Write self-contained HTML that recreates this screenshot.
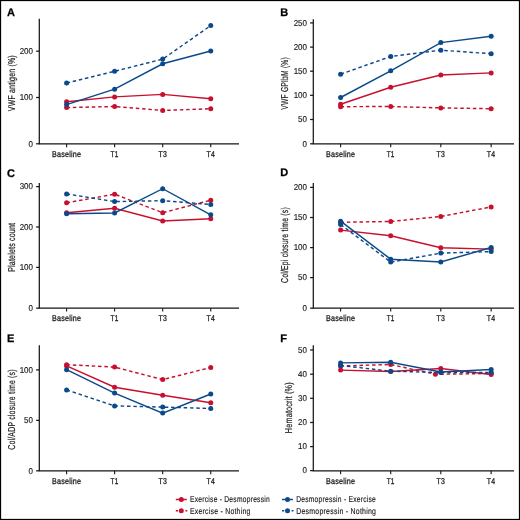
<!DOCTYPE html><html><head><meta charset="utf-8"><style>html,body{margin:0;padding:0;background:#fff;}svg{display:block;will-change:transform;}</style></head><body>
<svg width="520" height="520" viewBox="0 0 520 520" font-family='&quot;Liberation Sans&quot;, sans-serif' text-rendering="geometricPrecision">
<rect x="0" y="0" width="520" height="520" fill="#fff"/>
<text x="7.00" y="16.20" font-size="11" font-weight="bold" fill="#000" stroke="#000" stroke-width="0.25">A</text>
<path d="M39.30 18.80 V143.80 H239.00" fill="none" stroke="#161616" stroke-width="1.25"/>
<line x1="36.10" y1="143.80" x2="39.30" y2="143.80" stroke="#161616" stroke-width="1.25"/>
<text x="28.56" y="146.50" font-size="8.5" textLength="4.44" lengthAdjust="spacingAndGlyphs" fill="#1a1a1a" stroke="#1a1a1a" stroke-width="0.15">0</text>
<line x1="36.10" y1="97.50" x2="39.30" y2="97.50" stroke="#161616" stroke-width="1.25"/>
<text x="19.67" y="100.20" font-size="8.5" textLength="13.33" lengthAdjust="spacingAndGlyphs" fill="#1a1a1a" stroke="#1a1a1a" stroke-width="0.15">100</text>
<line x1="36.10" y1="51.20" x2="39.30" y2="51.20" stroke="#161616" stroke-width="1.25"/>
<text x="19.67" y="53.90" font-size="8.5" textLength="13.33" lengthAdjust="spacingAndGlyphs" fill="#1a1a1a" stroke="#1a1a1a" stroke-width="0.15">200</text>
<line x1="66.60" y1="143.80" x2="66.60" y2="147.20" stroke="#161616" stroke-width="1.1"/>
<text x="51.90" y="156.90" font-size="8.5" letter-spacing="0.3" textLength="29.40" lengthAdjust="spacingAndGlyphs" fill="#1a1a1a" stroke="#1a1a1a" stroke-width="0.28">Baseline</text>
<line x1="114.60" y1="143.80" x2="114.60" y2="147.20" stroke="#161616" stroke-width="1.1"/>
<text x="110.60" y="156.90" font-size="8.5" letter-spacing="0.3" textLength="8.00" lengthAdjust="spacingAndGlyphs" fill="#1a1a1a" stroke="#1a1a1a" stroke-width="0.28">T1</text>
<line x1="162.70" y1="143.80" x2="162.70" y2="147.20" stroke="#161616" stroke-width="1.1"/>
<text x="158.40" y="156.90" font-size="8.5" letter-spacing="0.3" textLength="8.60" lengthAdjust="spacingAndGlyphs" fill="#1a1a1a" stroke="#1a1a1a" stroke-width="0.28">T3</text>
<line x1="210.75" y1="143.80" x2="210.75" y2="147.20" stroke="#161616" stroke-width="1.1"/>
<text x="206.45" y="156.90" font-size="8.5" letter-spacing="0.3" textLength="8.60" lengthAdjust="spacingAndGlyphs" fill="#1a1a1a" stroke="#1a1a1a" stroke-width="0.28">T4</text>
<text transform="translate(15.20 83.15) rotate(-90)" x="-28.00" y="0" font-size="10" letter-spacing="0.3" textLength="56.00" lengthAdjust="spacingAndGlyphs" fill="#1a1a1a" stroke="#1a1a1a" stroke-width="0.2">VWF antigen (%)</text>
<path d="M66.60 101.80 L114.60 96.90 L162.70 94.40 L210.75 98.70" fill="none" stroke="#c8102e" stroke-width="1.45"/>
<circle cx="66.60" cy="101.80" r="2.5" fill="#c8102e"/>
<circle cx="114.60" cy="96.90" r="2.5" fill="#c8102e"/>
<circle cx="162.70" cy="94.40" r="2.5" fill="#c8102e"/>
<circle cx="210.75" cy="98.70" r="2.5" fill="#c8102e"/>
<path d="M66.60 107.60 L114.60 106.50 L162.70 110.50 L210.75 108.70" fill="none" stroke="#c8102e" stroke-width="1.45" stroke-dasharray="3.5 2.8"/>
<circle cx="66.60" cy="107.60" r="2.5" fill="#c8102e"/>
<circle cx="114.60" cy="106.50" r="2.5" fill="#c8102e"/>
<circle cx="162.70" cy="110.50" r="2.5" fill="#c8102e"/>
<circle cx="210.75" cy="108.70" r="2.5" fill="#c8102e"/>
<path d="M66.60 104.60 L114.60 89.20 L162.70 63.80 L210.75 51.00" fill="none" stroke="#0b4a8a" stroke-width="1.45"/>
<circle cx="66.60" cy="104.60" r="2.5" fill="#0b4a8a"/>
<circle cx="114.60" cy="89.20" r="2.5" fill="#0b4a8a"/>
<circle cx="162.70" cy="63.80" r="2.5" fill="#0b4a8a"/>
<circle cx="210.75" cy="51.00" r="2.5" fill="#0b4a8a"/>
<path d="M66.60 83.00 L114.60 71.30 L162.70 59.10 L210.75 25.60" fill="none" stroke="#0b4a8a" stroke-width="1.45" stroke-dasharray="3.5 2.8"/>
<circle cx="66.60" cy="83.00" r="2.5" fill="#0b4a8a"/>
<circle cx="114.60" cy="71.30" r="2.5" fill="#0b4a8a"/>
<circle cx="162.70" cy="59.10" r="2.5" fill="#0b4a8a"/>
<circle cx="210.75" cy="25.60" r="2.5" fill="#0b4a8a"/>
<text x="280.30" y="16.20" font-size="11" font-weight="bold" fill="#000" stroke="#000" stroke-width="0.25">B</text>
<path d="M313.30 19.20 V143.80 H514.00" fill="none" stroke="#161616" stroke-width="1.25"/>
<line x1="310.10" y1="143.80" x2="313.30" y2="143.80" stroke="#161616" stroke-width="1.25"/>
<text x="302.56" y="146.50" font-size="8.5" textLength="4.44" lengthAdjust="spacingAndGlyphs" fill="#1a1a1a" stroke="#1a1a1a" stroke-width="0.15">0</text>
<line x1="310.10" y1="119.50" x2="313.30" y2="119.50" stroke="#161616" stroke-width="1.25"/>
<text x="298.12" y="122.20" font-size="8.5" textLength="8.88" lengthAdjust="spacingAndGlyphs" fill="#1a1a1a" stroke="#1a1a1a" stroke-width="0.15">50</text>
<line x1="310.10" y1="95.30" x2="313.30" y2="95.30" stroke="#161616" stroke-width="1.25"/>
<text x="293.67" y="98.00" font-size="8.5" textLength="13.33" lengthAdjust="spacingAndGlyphs" fill="#1a1a1a" stroke="#1a1a1a" stroke-width="0.15">100</text>
<line x1="310.10" y1="71.20" x2="313.30" y2="71.20" stroke="#161616" stroke-width="1.25"/>
<text x="293.67" y="73.90" font-size="8.5" textLength="13.33" lengthAdjust="spacingAndGlyphs" fill="#1a1a1a" stroke="#1a1a1a" stroke-width="0.15">150</text>
<line x1="310.10" y1="47.10" x2="313.30" y2="47.10" stroke="#161616" stroke-width="1.25"/>
<text x="293.67" y="49.80" font-size="8.5" textLength="13.33" lengthAdjust="spacingAndGlyphs" fill="#1a1a1a" stroke="#1a1a1a" stroke-width="0.15">200</text>
<line x1="310.10" y1="22.90" x2="313.30" y2="22.90" stroke="#161616" stroke-width="1.25"/>
<text x="293.67" y="25.60" font-size="8.5" textLength="13.33" lengthAdjust="spacingAndGlyphs" fill="#1a1a1a" stroke="#1a1a1a" stroke-width="0.15">250</text>
<line x1="340.60" y1="143.80" x2="340.60" y2="147.20" stroke="#161616" stroke-width="1.1"/>
<text x="325.90" y="156.90" font-size="8.5" letter-spacing="0.3" textLength="29.40" lengthAdjust="spacingAndGlyphs" fill="#1a1a1a" stroke="#1a1a1a" stroke-width="0.28">Baseline</text>
<line x1="390.70" y1="143.80" x2="390.70" y2="147.20" stroke="#161616" stroke-width="1.1"/>
<text x="386.70" y="156.90" font-size="8.5" letter-spacing="0.3" textLength="8.00" lengthAdjust="spacingAndGlyphs" fill="#1a1a1a" stroke="#1a1a1a" stroke-width="0.28">T1</text>
<line x1="440.80" y1="143.80" x2="440.80" y2="147.20" stroke="#161616" stroke-width="1.1"/>
<text x="436.50" y="156.90" font-size="8.5" letter-spacing="0.3" textLength="8.60" lengthAdjust="spacingAndGlyphs" fill="#1a1a1a" stroke="#1a1a1a" stroke-width="0.28">T3</text>
<line x1="491.15" y1="143.80" x2="491.15" y2="147.20" stroke="#161616" stroke-width="1.1"/>
<text x="486.85" y="156.90" font-size="8.5" letter-spacing="0.3" textLength="8.60" lengthAdjust="spacingAndGlyphs" fill="#1a1a1a" stroke="#1a1a1a" stroke-width="0.28">T4</text>
<text transform="translate(288.20 83.35) rotate(-90)" x="-26.30" y="0" font-size="10" letter-spacing="0.3" textLength="52.60" lengthAdjust="spacingAndGlyphs" fill="#1a1a1a" stroke="#1a1a1a" stroke-width="0.2">VWF GPIbM (%)</text>
<path d="M340.60 104.20 L390.70 87.20 L440.80 75.00 L491.15 72.90" fill="none" stroke="#c8102e" stroke-width="1.45"/>
<circle cx="340.60" cy="104.20" r="2.5" fill="#c8102e"/>
<circle cx="390.70" cy="87.20" r="2.5" fill="#c8102e"/>
<circle cx="440.80" cy="75.00" r="2.5" fill="#c8102e"/>
<circle cx="491.15" cy="72.90" r="2.5" fill="#c8102e"/>
<path d="M340.60 106.70 L390.70 106.50 L440.80 107.90 L491.15 108.70" fill="none" stroke="#c8102e" stroke-width="1.45" stroke-dasharray="3.5 2.8"/>
<circle cx="340.60" cy="106.70" r="2.5" fill="#c8102e"/>
<circle cx="390.70" cy="106.50" r="2.5" fill="#c8102e"/>
<circle cx="440.80" cy="107.90" r="2.5" fill="#c8102e"/>
<circle cx="491.15" cy="108.70" r="2.5" fill="#c8102e"/>
<path d="M340.60 97.50 L390.70 70.80 L440.80 42.60 L491.15 36.30" fill="none" stroke="#0b4a8a" stroke-width="1.45"/>
<circle cx="340.60" cy="97.50" r="2.5" fill="#0b4a8a"/>
<circle cx="390.70" cy="70.80" r="2.5" fill="#0b4a8a"/>
<circle cx="440.80" cy="42.60" r="2.5" fill="#0b4a8a"/>
<circle cx="491.15" cy="36.30" r="2.5" fill="#0b4a8a"/>
<path d="M340.60 74.20 L390.70 56.50 L440.80 50.20 L491.15 53.70" fill="none" stroke="#0b4a8a" stroke-width="1.45" stroke-dasharray="3.5 2.8"/>
<circle cx="340.60" cy="74.20" r="2.5" fill="#0b4a8a"/>
<circle cx="390.70" cy="56.50" r="2.5" fill="#0b4a8a"/>
<circle cx="440.80" cy="50.20" r="2.5" fill="#0b4a8a"/>
<circle cx="491.15" cy="53.70" r="2.5" fill="#0b4a8a"/>
<text x="7.00" y="176.50" font-size="11" font-weight="bold" fill="#000" stroke="#000" stroke-width="0.25">C</text>
<path d="M39.30 183.00 V308.15 H239.00" fill="none" stroke="#161616" stroke-width="1.25"/>
<line x1="36.10" y1="308.15" x2="39.30" y2="308.15" stroke="#161616" stroke-width="1.25"/>
<text x="28.56" y="310.85" font-size="8.5" textLength="4.44" lengthAdjust="spacingAndGlyphs" fill="#1a1a1a" stroke="#1a1a1a" stroke-width="0.15">0</text>
<line x1="36.10" y1="267.40" x2="39.30" y2="267.40" stroke="#161616" stroke-width="1.25"/>
<text x="19.67" y="270.10" font-size="8.5" textLength="13.33" lengthAdjust="spacingAndGlyphs" fill="#1a1a1a" stroke="#1a1a1a" stroke-width="0.15">100</text>
<line x1="36.10" y1="227.00" x2="39.30" y2="227.00" stroke="#161616" stroke-width="1.25"/>
<text x="19.67" y="229.70" font-size="8.5" textLength="13.33" lengthAdjust="spacingAndGlyphs" fill="#1a1a1a" stroke="#1a1a1a" stroke-width="0.15">200</text>
<line x1="36.10" y1="186.60" x2="39.30" y2="186.60" stroke="#161616" stroke-width="1.25"/>
<text x="19.67" y="189.30" font-size="8.5" textLength="13.33" lengthAdjust="spacingAndGlyphs" fill="#1a1a1a" stroke="#1a1a1a" stroke-width="0.15">300</text>
<line x1="66.60" y1="308.15" x2="66.60" y2="311.55" stroke="#161616" stroke-width="1.1"/>
<text x="51.90" y="321.25" font-size="8.5" letter-spacing="0.3" textLength="29.40" lengthAdjust="spacingAndGlyphs" fill="#1a1a1a" stroke="#1a1a1a" stroke-width="0.28">Baseline</text>
<line x1="114.60" y1="308.15" x2="114.60" y2="311.55" stroke="#161616" stroke-width="1.1"/>
<text x="110.60" y="321.25" font-size="8.5" letter-spacing="0.3" textLength="8.00" lengthAdjust="spacingAndGlyphs" fill="#1a1a1a" stroke="#1a1a1a" stroke-width="0.28">T1</text>
<line x1="162.70" y1="308.15" x2="162.70" y2="311.55" stroke="#161616" stroke-width="1.1"/>
<text x="158.40" y="321.25" font-size="8.5" letter-spacing="0.3" textLength="8.60" lengthAdjust="spacingAndGlyphs" fill="#1a1a1a" stroke="#1a1a1a" stroke-width="0.28">T3</text>
<line x1="210.75" y1="308.15" x2="210.75" y2="311.55" stroke="#161616" stroke-width="1.1"/>
<text x="206.45" y="321.25" font-size="8.5" letter-spacing="0.3" textLength="8.60" lengthAdjust="spacingAndGlyphs" fill="#1a1a1a" stroke="#1a1a1a" stroke-width="0.28">T4</text>
<text transform="translate(15.20 247.30) rotate(-90)" x="-24.50" y="0" font-size="10" letter-spacing="0.3" textLength="49.00" lengthAdjust="spacingAndGlyphs" fill="#1a1a1a" stroke="#1a1a1a" stroke-width="0.2">Platelets count</text>
<path d="M66.60 212.70 L114.60 208.20 L162.70 220.90 L210.75 218.70" fill="none" stroke="#c8102e" stroke-width="1.45"/>
<circle cx="66.60" cy="212.70" r="2.5" fill="#c8102e"/>
<circle cx="114.60" cy="208.20" r="2.5" fill="#c8102e"/>
<circle cx="162.70" cy="220.90" r="2.5" fill="#c8102e"/>
<circle cx="210.75" cy="218.70" r="2.5" fill="#c8102e"/>
<path d="M66.60 202.80 L114.60 194.20 L162.70 212.70 L210.75 200.20" fill="none" stroke="#c8102e" stroke-width="1.45" stroke-dasharray="3.5 2.8"/>
<circle cx="66.60" cy="202.80" r="2.5" fill="#c8102e"/>
<circle cx="114.60" cy="194.20" r="2.5" fill="#c8102e"/>
<circle cx="162.70" cy="212.70" r="2.5" fill="#c8102e"/>
<circle cx="210.75" cy="200.20" r="2.5" fill="#c8102e"/>
<path d="M66.60 213.70 L114.60 213.00 L162.70 188.70 L210.75 214.80" fill="none" stroke="#0b4a8a" stroke-width="1.45"/>
<circle cx="66.60" cy="213.70" r="2.5" fill="#0b4a8a"/>
<circle cx="114.60" cy="213.00" r="2.5" fill="#0b4a8a"/>
<circle cx="162.70" cy="188.70" r="2.5" fill="#0b4a8a"/>
<circle cx="210.75" cy="214.80" r="2.5" fill="#0b4a8a"/>
<path d="M66.60 193.90 L114.60 201.60 L162.70 200.70 L210.75 204.50" fill="none" stroke="#0b4a8a" stroke-width="1.45" stroke-dasharray="3.5 2.8"/>
<circle cx="66.60" cy="193.90" r="2.5" fill="#0b4a8a"/>
<circle cx="114.60" cy="201.60" r="2.5" fill="#0b4a8a"/>
<circle cx="162.70" cy="200.70" r="2.5" fill="#0b4a8a"/>
<circle cx="210.75" cy="204.50" r="2.5" fill="#0b4a8a"/>
<text x="280.20" y="176.20" font-size="11" font-weight="bold" fill="#000" stroke="#000" stroke-width="0.25">D</text>
<path d="M313.30 183.00 V308.15 H514.00" fill="none" stroke="#161616" stroke-width="1.25"/>
<line x1="310.10" y1="308.15" x2="313.30" y2="308.15" stroke="#161616" stroke-width="1.25"/>
<text x="302.56" y="310.85" font-size="8.5" textLength="4.44" lengthAdjust="spacingAndGlyphs" fill="#1a1a1a" stroke="#1a1a1a" stroke-width="0.15">0</text>
<line x1="310.10" y1="277.60" x2="313.30" y2="277.60" stroke="#161616" stroke-width="1.25"/>
<text x="298.12" y="280.30" font-size="8.5" textLength="8.88" lengthAdjust="spacingAndGlyphs" fill="#1a1a1a" stroke="#1a1a1a" stroke-width="0.15">50</text>
<line x1="310.10" y1="247.60" x2="313.30" y2="247.60" stroke="#161616" stroke-width="1.25"/>
<text x="293.67" y="250.30" font-size="8.5" textLength="13.33" lengthAdjust="spacingAndGlyphs" fill="#1a1a1a" stroke="#1a1a1a" stroke-width="0.15">100</text>
<line x1="310.10" y1="217.50" x2="313.30" y2="217.50" stroke="#161616" stroke-width="1.25"/>
<text x="293.67" y="220.20" font-size="8.5" textLength="13.33" lengthAdjust="spacingAndGlyphs" fill="#1a1a1a" stroke="#1a1a1a" stroke-width="0.15">150</text>
<line x1="310.10" y1="187.40" x2="313.30" y2="187.40" stroke="#161616" stroke-width="1.25"/>
<text x="293.67" y="190.10" font-size="8.5" textLength="13.33" lengthAdjust="spacingAndGlyphs" fill="#1a1a1a" stroke="#1a1a1a" stroke-width="0.15">200</text>
<line x1="340.60" y1="308.15" x2="340.60" y2="311.55" stroke="#161616" stroke-width="1.1"/>
<text x="325.90" y="321.25" font-size="8.5" letter-spacing="0.3" textLength="29.40" lengthAdjust="spacingAndGlyphs" fill="#1a1a1a" stroke="#1a1a1a" stroke-width="0.28">Baseline</text>
<line x1="390.70" y1="308.15" x2="390.70" y2="311.55" stroke="#161616" stroke-width="1.1"/>
<text x="386.70" y="321.25" font-size="8.5" letter-spacing="0.3" textLength="8.00" lengthAdjust="spacingAndGlyphs" fill="#1a1a1a" stroke="#1a1a1a" stroke-width="0.28">T1</text>
<line x1="440.80" y1="308.15" x2="440.80" y2="311.55" stroke="#161616" stroke-width="1.1"/>
<text x="436.50" y="321.25" font-size="8.5" letter-spacing="0.3" textLength="8.60" lengthAdjust="spacingAndGlyphs" fill="#1a1a1a" stroke="#1a1a1a" stroke-width="0.28">T3</text>
<line x1="491.15" y1="308.15" x2="491.15" y2="311.55" stroke="#161616" stroke-width="1.1"/>
<text x="486.85" y="321.25" font-size="8.5" letter-spacing="0.3" textLength="8.60" lengthAdjust="spacingAndGlyphs" fill="#1a1a1a" stroke="#1a1a1a" stroke-width="0.28">T4</text>
<text transform="translate(288.20 245.00) rotate(-90)" x="-38.00" y="0" font-size="10" letter-spacing="0.3" textLength="76.00" lengthAdjust="spacingAndGlyphs" fill="#1a1a1a" stroke="#1a1a1a" stroke-width="0.2">Col/Epi closure time (s)</text>
<path d="M340.60 230.10 L390.70 235.70 L440.80 247.70 L491.15 249.10" fill="none" stroke="#c8102e" stroke-width="1.45"/>
<circle cx="340.60" cy="230.10" r="2.5" fill="#c8102e"/>
<circle cx="390.70" cy="235.70" r="2.5" fill="#c8102e"/>
<circle cx="440.80" cy="247.70" r="2.5" fill="#c8102e"/>
<circle cx="491.15" cy="249.10" r="2.5" fill="#c8102e"/>
<path d="M340.60 222.30 L390.70 221.50 L440.80 216.50 L491.15 206.90" fill="none" stroke="#c8102e" stroke-width="1.45" stroke-dasharray="3.5 2.8"/>
<circle cx="340.60" cy="222.30" r="2.5" fill="#c8102e"/>
<circle cx="390.70" cy="221.50" r="2.5" fill="#c8102e"/>
<circle cx="440.80" cy="216.50" r="2.5" fill="#c8102e"/>
<circle cx="491.15" cy="206.90" r="2.5" fill="#c8102e"/>
<path d="M340.60 221.20 L390.70 259.20 L440.80 262.00 L491.15 247.50" fill="none" stroke="#0b4a8a" stroke-width="1.45"/>
<circle cx="340.60" cy="221.20" r="2.5" fill="#0b4a8a"/>
<circle cx="390.70" cy="259.20" r="2.5" fill="#0b4a8a"/>
<circle cx="440.80" cy="262.00" r="2.5" fill="#0b4a8a"/>
<circle cx="491.15" cy="247.50" r="2.5" fill="#0b4a8a"/>
<path d="M340.60 224.50 L390.70 262.10 L440.80 253.10 L491.15 251.60" fill="none" stroke="#0b4a8a" stroke-width="1.45" stroke-dasharray="3.5 2.8"/>
<circle cx="340.60" cy="224.50" r="2.5" fill="#0b4a8a"/>
<circle cx="390.70" cy="262.10" r="2.5" fill="#0b4a8a"/>
<circle cx="440.80" cy="253.10" r="2.5" fill="#0b4a8a"/>
<circle cx="491.15" cy="251.60" r="2.5" fill="#0b4a8a"/>
<text x="7.00" y="341.90" font-size="11" font-weight="bold" fill="#000" stroke="#000" stroke-width="0.25">E</text>
<path d="M39.30 345.30 V470.80 H239.00" fill="none" stroke="#161616" stroke-width="1.25"/>
<line x1="36.10" y1="470.80" x2="39.30" y2="470.80" stroke="#161616" stroke-width="1.25"/>
<text x="28.56" y="473.50" font-size="8.5" textLength="4.44" lengthAdjust="spacingAndGlyphs" fill="#1a1a1a" stroke="#1a1a1a" stroke-width="0.15">0</text>
<line x1="36.10" y1="420.40" x2="39.30" y2="420.40" stroke="#161616" stroke-width="1.25"/>
<text x="24.12" y="423.10" font-size="8.5" textLength="8.88" lengthAdjust="spacingAndGlyphs" fill="#1a1a1a" stroke="#1a1a1a" stroke-width="0.15">50</text>
<line x1="36.10" y1="369.90" x2="39.30" y2="369.90" stroke="#161616" stroke-width="1.25"/>
<text x="19.67" y="372.60" font-size="8.5" textLength="13.33" lengthAdjust="spacingAndGlyphs" fill="#1a1a1a" stroke="#1a1a1a" stroke-width="0.15">100</text>
<line x1="66.60" y1="470.80" x2="66.60" y2="474.20" stroke="#161616" stroke-width="1.1"/>
<text x="51.90" y="483.90" font-size="8.5" letter-spacing="0.3" textLength="29.40" lengthAdjust="spacingAndGlyphs" fill="#1a1a1a" stroke="#1a1a1a" stroke-width="0.28">Baseline</text>
<line x1="114.60" y1="470.80" x2="114.60" y2="474.20" stroke="#161616" stroke-width="1.1"/>
<text x="110.60" y="483.90" font-size="8.5" letter-spacing="0.3" textLength="8.00" lengthAdjust="spacingAndGlyphs" fill="#1a1a1a" stroke="#1a1a1a" stroke-width="0.28">T1</text>
<line x1="162.70" y1="470.80" x2="162.70" y2="474.20" stroke="#161616" stroke-width="1.1"/>
<text x="158.40" y="483.90" font-size="8.5" letter-spacing="0.3" textLength="8.60" lengthAdjust="spacingAndGlyphs" fill="#1a1a1a" stroke="#1a1a1a" stroke-width="0.28">T3</text>
<line x1="210.75" y1="470.80" x2="210.75" y2="474.20" stroke="#161616" stroke-width="1.1"/>
<text x="206.45" y="483.90" font-size="8.5" letter-spacing="0.3" textLength="8.60" lengthAdjust="spacingAndGlyphs" fill="#1a1a1a" stroke="#1a1a1a" stroke-width="0.28">T4</text>
<text transform="translate(15.20 409.50) rotate(-90)" x="-40.25" y="0" font-size="10" letter-spacing="0.3" textLength="80.50" lengthAdjust="spacingAndGlyphs" fill="#1a1a1a" stroke="#1a1a1a" stroke-width="0.2">Col/ADP closure time (s)</text>
<path d="M66.60 365.90 L114.60 387.25 L162.70 395.25 L210.75 402.75" fill="none" stroke="#c8102e" stroke-width="1.45"/>
<circle cx="66.60" cy="365.90" r="2.5" fill="#c8102e"/>
<circle cx="114.60" cy="387.25" r="2.5" fill="#c8102e"/>
<circle cx="162.70" cy="395.25" r="2.5" fill="#c8102e"/>
<circle cx="210.75" cy="402.75" r="2.5" fill="#c8102e"/>
<path d="M66.60 364.70 L114.60 367.10 L162.70 379.60 L210.75 367.50" fill="none" stroke="#c8102e" stroke-width="1.45" stroke-dasharray="3.5 2.8"/>
<circle cx="66.60" cy="364.70" r="2.5" fill="#c8102e"/>
<circle cx="114.60" cy="367.10" r="2.5" fill="#c8102e"/>
<circle cx="162.70" cy="379.60" r="2.5" fill="#c8102e"/>
<circle cx="210.75" cy="367.50" r="2.5" fill="#c8102e"/>
<path d="M66.60 369.70 L114.60 393.10 L162.70 413.10 L210.75 394.00" fill="none" stroke="#0b4a8a" stroke-width="1.45"/>
<circle cx="66.60" cy="369.70" r="2.5" fill="#0b4a8a"/>
<circle cx="114.60" cy="393.10" r="2.5" fill="#0b4a8a"/>
<circle cx="162.70" cy="413.10" r="2.5" fill="#0b4a8a"/>
<circle cx="210.75" cy="394.00" r="2.5" fill="#0b4a8a"/>
<path d="M66.60 389.90 L114.60 405.90 L162.70 407.10 L210.75 408.50" fill="none" stroke="#0b4a8a" stroke-width="1.45" stroke-dasharray="3.5 2.8"/>
<circle cx="66.60" cy="389.90" r="2.5" fill="#0b4a8a"/>
<circle cx="114.60" cy="405.90" r="2.5" fill="#0b4a8a"/>
<circle cx="162.70" cy="407.10" r="2.5" fill="#0b4a8a"/>
<circle cx="210.75" cy="408.50" r="2.5" fill="#0b4a8a"/>
<text x="280.30" y="341.60" font-size="11" font-weight="bold" fill="#000" stroke="#000" stroke-width="0.25">F</text>
<path d="M313.30 345.30 V470.80 H514.00" fill="none" stroke="#161616" stroke-width="1.25"/>
<line x1="310.10" y1="470.60" x2="313.30" y2="470.60" stroke="#161616" stroke-width="1.25"/>
<text x="302.56" y="473.30" font-size="8.5" textLength="4.44" lengthAdjust="spacingAndGlyphs" fill="#1a1a1a" stroke="#1a1a1a" stroke-width="0.15">0</text>
<line x1="310.10" y1="446.60" x2="313.30" y2="446.60" stroke="#161616" stroke-width="1.25"/>
<text x="298.12" y="449.30" font-size="8.5" textLength="8.88" lengthAdjust="spacingAndGlyphs" fill="#1a1a1a" stroke="#1a1a1a" stroke-width="0.15">10</text>
<line x1="310.10" y1="422.50" x2="313.30" y2="422.50" stroke="#161616" stroke-width="1.25"/>
<text x="298.12" y="425.20" font-size="8.5" textLength="8.88" lengthAdjust="spacingAndGlyphs" fill="#1a1a1a" stroke="#1a1a1a" stroke-width="0.15">20</text>
<line x1="310.10" y1="398.30" x2="313.30" y2="398.30" stroke="#161616" stroke-width="1.25"/>
<text x="298.12" y="401.00" font-size="8.5" textLength="8.88" lengthAdjust="spacingAndGlyphs" fill="#1a1a1a" stroke="#1a1a1a" stroke-width="0.15">30</text>
<line x1="310.10" y1="374.20" x2="313.30" y2="374.20" stroke="#161616" stroke-width="1.25"/>
<text x="298.12" y="376.90" font-size="8.5" textLength="8.88" lengthAdjust="spacingAndGlyphs" fill="#1a1a1a" stroke="#1a1a1a" stroke-width="0.15">40</text>
<line x1="310.10" y1="350.00" x2="313.30" y2="350.00" stroke="#161616" stroke-width="1.25"/>
<text x="298.12" y="352.70" font-size="8.5" textLength="8.88" lengthAdjust="spacingAndGlyphs" fill="#1a1a1a" stroke="#1a1a1a" stroke-width="0.15">50</text>
<line x1="340.60" y1="470.80" x2="340.60" y2="474.20" stroke="#161616" stroke-width="1.1"/>
<text x="325.90" y="483.90" font-size="8.5" letter-spacing="0.3" textLength="29.40" lengthAdjust="spacingAndGlyphs" fill="#1a1a1a" stroke="#1a1a1a" stroke-width="0.28">Baseline</text>
<line x1="390.70" y1="470.80" x2="390.70" y2="474.20" stroke="#161616" stroke-width="1.1"/>
<text x="386.70" y="483.90" font-size="8.5" letter-spacing="0.3" textLength="8.00" lengthAdjust="spacingAndGlyphs" fill="#1a1a1a" stroke="#1a1a1a" stroke-width="0.28">T1</text>
<line x1="440.80" y1="470.80" x2="440.80" y2="474.20" stroke="#161616" stroke-width="1.1"/>
<text x="436.50" y="483.90" font-size="8.5" letter-spacing="0.3" textLength="8.60" lengthAdjust="spacingAndGlyphs" fill="#1a1a1a" stroke="#1a1a1a" stroke-width="0.28">T3</text>
<line x1="491.15" y1="470.80" x2="491.15" y2="474.20" stroke="#161616" stroke-width="1.1"/>
<text x="486.85" y="483.90" font-size="8.5" letter-spacing="0.3" textLength="8.60" lengthAdjust="spacingAndGlyphs" fill="#1a1a1a" stroke="#1a1a1a" stroke-width="0.28">T4</text>
<text transform="translate(292.20 407.70) rotate(-90)" x="-25.45" y="0" font-size="10" letter-spacing="0.3" textLength="50.90" lengthAdjust="spacingAndGlyphs" fill="#1a1a1a" stroke="#1a1a1a" stroke-width="0.2">Hematocrit (%)</text>
<path d="M340.60 370.10 L390.70 371.40 L440.80 368.60 L491.15 374.50" fill="none" stroke="#c8102e" stroke-width="1.45"/>
<circle cx="340.60" cy="370.10" r="2.5" fill="#c8102e"/>
<circle cx="390.70" cy="371.40" r="2.5" fill="#c8102e"/>
<circle cx="440.80" cy="368.60" r="2.5" fill="#c8102e"/>
<circle cx="491.15" cy="374.50" r="2.5" fill="#c8102e"/>
<path d="M340.60 366.00 L390.70 364.50 L435.40 374.30 L491.15 373.50" fill="none" stroke="#c8102e" stroke-width="1.45" stroke-dasharray="3.5 2.8"/>
<circle cx="340.60" cy="366.00" r="2.5" fill="#c8102e"/>
<circle cx="390.70" cy="364.50" r="2.5" fill="#c8102e"/>
<circle cx="435.40" cy="374.30" r="2.5" fill="#c8102e"/>
<circle cx="491.15" cy="373.50" r="2.5" fill="#c8102e"/>
<path d="M340.60 362.90 L390.70 362.20 L440.80 372.00 L491.15 369.50" fill="none" stroke="#0b4a8a" stroke-width="1.45"/>
<circle cx="340.60" cy="362.90" r="2.5" fill="#0b4a8a"/>
<circle cx="390.70" cy="362.20" r="2.5" fill="#0b4a8a"/>
<circle cx="440.80" cy="372.00" r="2.5" fill="#0b4a8a"/>
<circle cx="491.15" cy="369.50" r="2.5" fill="#0b4a8a"/>
<path d="M340.60 365.50 L390.70 371.20 L440.80 372.50 L491.15 372.50" fill="none" stroke="#0b4a8a" stroke-width="1.45" stroke-dasharray="3.5 2.8"/>
<circle cx="340.60" cy="365.50" r="2.5" fill="#0b4a8a"/>
<circle cx="390.70" cy="371.20" r="2.5" fill="#0b4a8a"/>
<circle cx="440.80" cy="372.50" r="2.5" fill="#0b4a8a"/>
<circle cx="491.15" cy="372.50" r="2.5" fill="#0b4a8a"/>
<line x1="175.80" y1="499.50" x2="186.80" y2="499.50" stroke="#c8102e" stroke-width="1.45"/>
<circle cx="181.30" cy="499.50" r="2.5" fill="#c8102e"/>
<text x="190.00" y="502.30" font-size="8.5" letter-spacing="0.3" textLength="80.00" lengthAdjust="spacingAndGlyphs" fill="#1a1a1a" stroke="#1a1a1a" stroke-width="0.15">Exercise - Desmopressin</text>
<line x1="175.80" y1="510.80" x2="187.30" y2="510.80" stroke="#c8102e" stroke-width="1.45" stroke-dasharray="2.2 2.6"/>
<circle cx="181.30" cy="510.80" r="2.5" fill="#c8102e"/>
<text x="190.00" y="513.60" font-size="8.5" letter-spacing="0.3" textLength="60.60" lengthAdjust="spacingAndGlyphs" fill="#1a1a1a" stroke="#1a1a1a" stroke-width="0.15">Exercise - Nothing</text>
<line x1="282.00" y1="499.50" x2="293.00" y2="499.50" stroke="#0b4a8a" stroke-width="1.45"/>
<circle cx="287.50" cy="499.50" r="2.5" fill="#0b4a8a"/>
<text x="296.20" y="502.30" font-size="8.5" letter-spacing="0.3" textLength="79.80" lengthAdjust="spacingAndGlyphs" fill="#1a1a1a" stroke="#1a1a1a" stroke-width="0.15">Desmopressin - Exercise</text>
<line x1="282.00" y1="510.80" x2="293.50" y2="510.80" stroke="#0b4a8a" stroke-width="1.45" stroke-dasharray="2.2 2.6"/>
<circle cx="287.50" cy="510.80" r="2.5" fill="#0b4a8a"/>
<text x="296.20" y="513.60" font-size="8.5" letter-spacing="0.3" textLength="80.00" lengthAdjust="spacingAndGlyphs" fill="#1a1a1a" stroke="#1a1a1a" stroke-width="0.15">Desmopressin - Nothing</text>
<rect x="0" y="0" width="520" height="520" fill="none" stroke="#000" stroke-width="2.25"/>
</svg></body></html>
